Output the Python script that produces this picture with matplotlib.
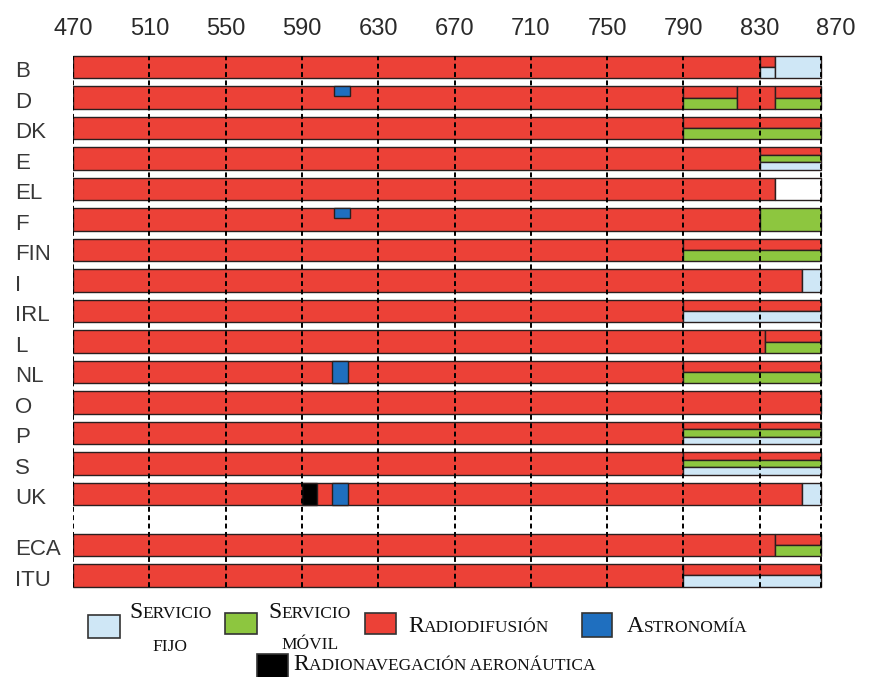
import matplotlib
matplotlib.use("Agg")
import matplotlib.pyplot as plt
from matplotlib.patches import Rectangle
from matplotlib.offsetbox import TextArea, HPacker, AnnotationBbox
from matplotlib.transforms import blended_transform_factory

# datos: bandas de 470-862 MHz por pais
paises = ['B', 'D', 'DK', 'E', 'EL', 'F', 'FIN', 'I', 'IRL', 'L', 'NL', 'O',
          'P', 'S', 'UK', 'ECA', 'ITU']

# (inicio, fin, servicios de arriba a abajo)
# R = radiodifusion, M = servicio movil, F = servicio fijo
tramos = [
    [(470, 830, 'R'), (830, 838, 'RF'), (838, 862, 'F')],
    [(470, 790, 'R'), (790, 818, 'RM'), (818, 838, 'R'), (838, 862, 'RM')],
    [(470, 790, 'R'), (790, 862, 'RM')],
    [(470, 830, 'R'), (830, 862, 'RMF')],
    [(470, 838, 'R'), (838, 862, '')],
    [(470, 830, 'R'), (830, 862, 'M')],
    [(470, 790, 'R'), (790, 862, 'RM')],
    [(470, 852, 'R'), (852, 862, 'F')],
    [(470, 790, 'R'), (790, 862, 'RF')],
    [(470, 833, 'R'), (833, 862, 'RM')],
    [(470, 790, 'R'), (790, 862, 'RM')],
    [(470, 862, 'R')],
    [(470, 790, 'R'), (790, 862, 'RMF')],
    [(470, 790, 'R'), (790, 862, 'RMF')],
    [(470, 852, 'R'), (852, 862, 'F')],
    [(470, 838, 'R'), (838, 862, 'RM')],
    [(470, 790, 'R'), (790, 862, 'RF')],
]

# astronomia (A) y radionavegacion aeronautica (N): pais, inicio, fin, parte de la altura
especiales = [
    ('D', 607, 615, 'A', 0.45),
    ('F', 607, 615, 'A', 0.45),
    ('NL', 606, 614, 'A', 1.0),
    ('UK', 606, 614, 'A', 1.0),
    ('UK', 590, 598, 'N', 1.0),
]

marcas = list(range(470, 871, 40))
fin_banda = 862

colores = {'R': '#EC4137', 'M': '#8DC63F', 'F': '#CFE7F6', 'A': '#1F6FBF', 'N': '#000000'}
borde = '#2a1f1f'

W, H = 870, 677
fig = plt.figure(figsize=(W / 100, H / 100), dpi=100)

# filas: hueco entre UK y ECA
paso = 30.5
y0 = 67
hueco = 0.67
pos = [i + (hueco if i >= 15 else 0) for i in range(len(paises))]
alto = 0.74

top_px, bot_px = 50, 592
ax = fig.add_axes([73 / W, 1 - bot_px / H, (836 - 73) / W, (bot_px - top_px) / H])
ax.set_xlim(470, 870)
ax.set_ylim((bot_px - y0) / paso, (top_px - y0) / paso)

for p, segs in zip(pos, tramos):
    for ini, fin, serv in segs:
        if not serv:
            ax.barh(p, fin - ini, left=ini, height=alto, color='white',
                    edgecolor=borde, linewidth=1.0, zorder=2)
            continue
        n = len(serv)
        for k, s in enumerate(serv):
            yc = p - alto / 2 + (k + 0.5) * alto / n
            ax.barh(yc, fin - ini, left=ini, height=alto / n, color=colores[s],
                    edgecolor=borde, linewidth=1.0, zorder=2)

for pais, ini, fin, s, frac in especiales:
    p = pos[paises.index(pais)]
    yc = p - alto / 2 + frac * alto / 2
    ax.barh(yc, fin - ini, left=ini, height=frac * alto, color=colores[s],
            edgecolor=borde, linewidth=1.0, zorder=3)

# lineas verticales discontinuas
ytop = pos[0] - alto / 2
ybot = pos[-1] + alto / 2
ax.vlines(marcas[:-1] + [fin_banda], ybot, ytop, colors='black',
          linestyles=(0, (2.5, 1.8)), linewidth=1.4, zorder=4)

ax.xaxis.tick_top()
ax.set_xticks(marcas)
ax.set_xticklabels([str(m) for m in marcas], fontsize=17, family='Liberation Sans',
                   color='#2a2a2a')
ax.tick_params(axis='x', length=0, pad=7)
ax.set_yticks([])
for sp in ax.spines.values():
    sp.set_visible(False)

trans = blended_transform_factory(fig.transFigure, ax.transData)
for p, pais in zip(pos, paises):
    ax.text(15 / W, p + 0.33, pais, transform=trans, fontsize=16,
            family='Liberation Sans', color='#383838', va='baseline', ha='left')


# leyenda en versalitas
def versalitas(texto, grande=17, pequena=12.5):
    trozos = []
    for ch in texto:
        big = ch.isupper()
        if trozos and trozos[-1][0] == big:
            trozos[-1][1] += ch.upper()
        else:
            trozos.append([big, ch.upper()])
    cajas = [TextArea(t, textprops=dict(fontsize=grande if b else pequena,
                                        family='Liberation Serif', color='#111111'))
             for b, t in trozos]
    return HPacker(children=cajas, align='baseline', pad=0, sep=0)


def poner(texto, x, y, alin=0.5):
    ab = AnnotationBbox(versalitas(texto), (x / W, 1 - y / H), xycoords='figure fraction',
                        frameon=False, box_alignment=(alin, 0.5), pad=0)
    fig.add_artist(ab)


def cuadro(x1, y1, x2, y2, color):
    fig.add_artist(Rectangle((x1 / W, 1 - y2 / H), (x2 - x1) / W, (y2 - y1) / H,
                             transform=fig.transFigure, facecolor=color,
                             edgecolor='#333333', linewidth=1.2))


cuadro(88, 615, 120, 638, colores['F'])
poner('Servicio', 171, 613)
poner('fijo', 170, 647)
cuadro(225, 613, 257, 634, colores['M'])
poner('Servicio', 310, 612)
poner('móvil', 310, 645)
cuadro(365, 613, 396, 634, colores['R'])
poner('Radiodifusión', 408, 626, 0)
cuadro(582, 613, 612, 637, colores['A'])
poner('Astronomía', 627, 626, 0)
cuadro(257, 654, 288, 680, colores['N'])
poner('Radionavegación aeronáutica', 293, 664, 0)

fig.savefig('out.png', dpi=100)
